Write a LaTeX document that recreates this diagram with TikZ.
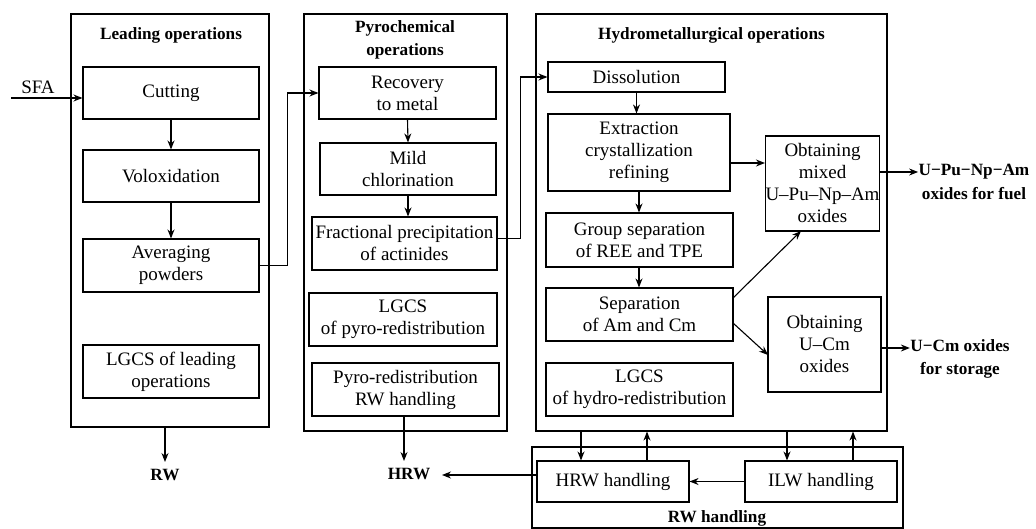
\documentclass[tikz,border=0pt]{standalone}
\usepackage{fontspec}
\setmainfont{Liberation Serif}
\newfontfamily\tms{Liberation Serif}
\usetikzlibrary{arrows.meta,calc}
\newcommand\mkbox[6]{\node[box, minimum width=#4, minimum height=#5] (#1) at (#2,#3) {#6};}
\begin{document}
\begin{tikzpicture}[x=1pt,y=-1pt, line width=1.1pt,
  box/.style={draw, inner sep=0pt, align=center, font=\tms\fontsize{19}{22}\selectfont},
  lbl/.style={inner sep=0pt, align=center, font=\tms\fontsize{17.2}{23.5}\selectfont\bfseries},
  plain/.style={inner sep=0pt, align=center, font=\tms\fontsize{19}{22}\selectfont},
  arr/.style={-{Stealth[length=9pt,width=7pt]}},
  ]
\useasboundingbox (0,0) rectangle (1036,529);
% big boxes
\mkbox{lead}{170}{220.5}{198}{413}{}
\mkbox{pyro}{405.5}{222.5}{203}{417}{}
\mkbox{hyd}{711.5}{222.5}{351}{417}{}
\mkbox{rwh}{717.5}{487.5}{371}{81}{}
% titles
\node[lbl] (tlead) at (171,35) {Leading operations};
\node[lbl] (tpyro) at (405,40) {Pyrochemical\\operations};
\node[lbl] (thyd) at (711.5,35) {Hydrometallurgical operations};
\node[lbl] (trwh) at (717,518) {RW handling};
% leading
\mkbox{cut}{171}{93}{176}{52}{Cutting}
\mkbox{vol}{171}{176}{176}{52}{Voloxidation}
\mkbox{avg}{171}{265.5}{176}{53}{Averaging\\powders}
\mkbox{lgl}{171}{371.5}{176}{53}{LGCS of leading\\operations}
% pyro
\mkbox{rec}{407.5}{93}{177}{52}{Recovery\\to metal}
\mkbox{mild}{408}{169}{176}{52}{Mild\\chlorination}
\mkbox{frac}{404.5}{243.5}{185}{53}{Fractional precipitation\\of actinides}
\mkbox{lgp}{403}{319.5}{188}{53}{LGCS\\of pyro-redistribution}
\mkbox{prw}{405.5}{389.5}{187}{53}{Pyro-redistribution\\RW handling}
% hydro
\mkbox{dis}{636.5}{77}{177}{30}{Dissolution}
\mkbox{ext}{639}{152.5}{182}{77}{Extraction\\crystallization\\refining}
\mkbox{grp}{639.5}{240}{187}{54}{Group separation\\of REE and TPE}
\mkbox{sep}{639.5}{314.5}{187}{53}{Separation\\of Am and Cm}
\mkbox{lgh}{639.5}{389.5}{187}{53}{LGCS\\of hydro-redistribution}
\mkbox{mix}{822.5}{183.5}{113}{95}{Obtaining\\mixed\\U–Pu–Np–Am\\oxides}
\mkbox{ucm}{824.5}{344.5}{113}{95}{Obtaining\\U–Cm\\oxides}
% rw handling
\mkbox{hrwh}{613}{481.5}{152}{41}{HRW handling}
\mkbox{ilwh}{821}{481.5}{152}{41}{ILW handling}
% free labels
\node[plain] (sfa) at (38,87) {SFA};
\node[lbl] (rw) at (165,475) {RW};
\node[lbl] (hrw) at (409,474) {HRW};
\node[lbl] (fuel) at (974,182) {U−Pu−Np−Am\\oxides for fuel};
\node[lbl] (stor) at (960,359) {U−Cm oxides\\for storage};
% coordinates
\coordinate (sfain) at (11,98);
\coordinate (y163) at (0,163);
\coordinate (y172) at (0,172);
\coordinate (y348) at (0,348);
\coordinate (s1) at (733,298);
\coordinate (m1) at (801,231);
\coordinate (s2) at (733,323);
\coordinate (u1) at (768,355);
\coordinate (rwend) at (165,462);
\coordinate (hrwend) at (404,461);
\coordinate (hrwin) at (442,475);
\coordinate (d1) at ($(hrwh.north)+(-32,0)$);
\coordinate (u2) at ($(hrwh.north)+(34,0)$);
\coordinate (d3) at ($(ilwh.north)+(-34,0)$);
\coordinate (u4) at ($(ilwh.north)+(32,0)$);
% connectors
\draw[arr] (sfain) -- (sfain -| cut.west);
\draw[arr] (cut.south) -- (vol.north);
\draw[arr] (vol.south) -- (avg.north);
\draw[arr] (avg.east) -- ++(28,0) |- (rec.west);
\draw[arr] (lead.south -| rwend) -- (rwend);
\draw[arr] (rec.south) -- (mild.north);
\draw[arr] (mild.south) -- (mild.south |- frac.north);
\draw[arr] ($(frac.east)+(0,-5)$) -- ++(23,0) |- (dis.west);
\draw[arr] (prw.south -| hrwend) -- (hrwend);
\draw[arr] (dis.south) -- (dis.south |- ext.north);
\draw[arr] (ext.south) -- (ext.south |- grp.north);
\draw[arr] (ext.south |- grp.south) -- (ext.south |- sep.north);
\draw[arr] (ext.east |- y163) -- (mix.west |- y163);
\draw[arr] (s1) -- (m1);
\draw[arr] (s2) -- (u1);
\draw[arr] (mix.east |- y172) -- (fuel.west |- y172);
\draw[arr] (ucm.east |- y348) -- (stor.west |- y348);
\draw[arr] (hyd.south -| d1) -- (d1);
\draw[arr] (u2) -- (hyd.south -| u2);
\draw[arr] (hyd.south -| d3) -- (d3);
\draw[arr] (u4) -- (hyd.south -| u4);
\draw[arr] (ilwh.west) -- (hrwh.east);
\draw[arr] (hrwh.west |- hrwin) -- (hrwin);
\end{tikzpicture}
\end{document}
